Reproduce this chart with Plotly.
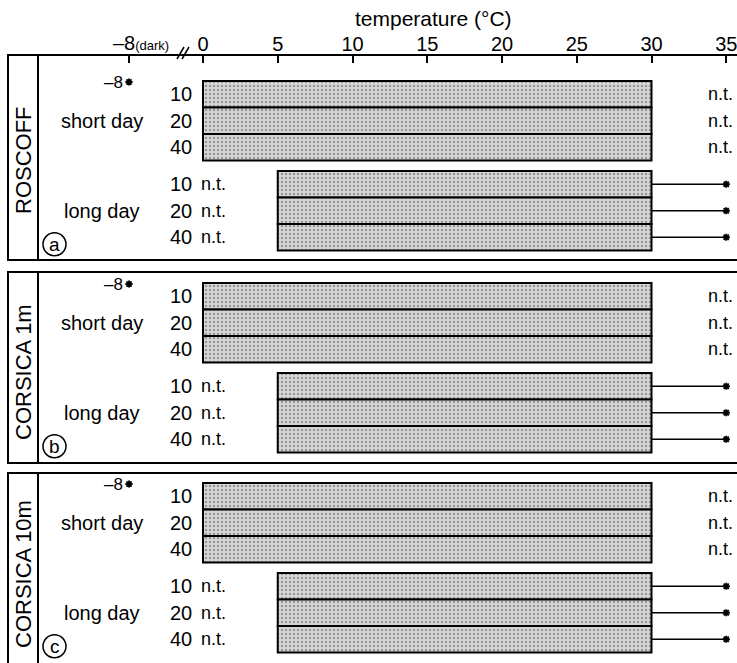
import plotly.graph_objects as go

# ---------------- data ----------------
panels = ["ROSCOFF", "CORSICA 1m", "CORSICA 10m"]
panel_letters = ["a", "b", "c"]
photoperiods = ["short day", "long day"]
irradiances = [10, 20, 40]
tick_vals = [0, 5, 10, 15, 20, 25, 30, 35]
dark_temp = -8                      # survival in darkness tested at -8 °C
short_day_min = [0, 0, 0]           # lower survival limit per panel, short day
short_day_max = [30, 30, 30]        # upper survival limit, short day
long_day_min = [5, 5, 5]            # lower limit, long day
long_day_max = [30, 30, 30]         # upper limit of growth, long day
long_day_survive = [35, 35, 35]     # survival extends to (line with star)
short_day_nt = 35                   # not tested at 35 in short day

# ---------------- layout constants ----------------
W, H = 737, 663
X0_PX, PX_PER_DEG = 203.0, 14.95
DARK_POS = -4.95        # display position of the broken-axis -8 (dark) tick
AXIS_Y = 55
ROW_H = 26.5
GROUP_GAP = 10.5
PANEL_BAR_TOP = [81, 283, 483]
PANEL_BOX = [(55, 260), (272, 463), (473, 664)]
PANEL_LABEL_Y = [160, 372, 574]
FONT = "Liberation Sans, Arial, sans-serif"


def px2x(p):
    return (p - X0_PX) / PX_PER_DEG


def row_center(p, g, i):
    return PANEL_BAR_TOP[p] + g * (3 * ROW_H + GROUP_GAP) + (i + 0.5) * ROW_H


fig = go.Figure()

# bars
bar_y, bar_base, bar_len = [], [], []
for p in range(len(panels)):
    for g, (mins, maxs) in enumerate([(short_day_min, short_day_max), (long_day_min, long_day_max)]):
        for i in range(len(irradiances)):
            bar_y.append(row_center(p, g, i))
            bar_base.append(mins[p])
            bar_len.append(maxs[p] - mins[p])

fig.add_trace(go.Bar(
    orientation="h", y=bar_y, x=bar_len, base=bar_base, width=ROW_H,
    marker=dict(color="#d6d6d6", line=dict(color="black", width=2),
                pattern=dict(shape=".", fgcolor="#555555", size=4, solidity=0.3,
                             fillmode="overlay")),
    hoverinfo="skip", showlegend=False,
))

# long-day survival lines to 35 with star
lx, ly, mx, my = [], [], [], []
for p in range(len(panels)):
    for i in range(len(irradiances)):
        c = row_center(p, 1, i)
        lx += [long_day_max[p], long_day_survive[p], None]
        ly += [c, c, None]
        mx.append(long_day_survive[p])
        my.append(c)
fig.add_trace(go.Scatter(x=lx, y=ly, mode="lines", line=dict(color="black", width=1.6),
                         hoverinfo="skip", showlegend=False))
fig.add_trace(go.Scatter(x=mx, y=my, mode="markers",
                         marker=dict(symbol="asterisk", size=6, line=dict(color="black", width=1.8)),
                         hoverinfo="skip", showlegend=False))

# dark survival star (-8) in short day
dx = [DARK_POS for _ in panels]
dy = [PANEL_BAR_TOP[p] + 1 for p in range(len(panels))]
fig.add_trace(go.Scatter(x=dx, y=dy, mode="markers",
                         marker=dict(symbol="asterisk", size=6, line=dict(color="black", width=1.8)),
                         hoverinfo="skip", showlegend=False))

shapes = []
ann = []


def text(x, y, s, size=20, xanchor="center", yanchor="middle", angle=0):
    ann.append(dict(x=x, y=y, xref="x", yref="y", text=s, showarrow=False,
                    xanchor=xanchor, yanchor=yanchor, textangle=angle,
                    font=dict(family=FONT, size=size, color="black")))


for p, name in enumerate(panels):
    top, bot = PANEL_BOX[p]
    shapes.append(dict(type="rect", xref="x", yref="y", x0=px2x(8), x1=px2x(760),
                       y0=top, y1=bot, line=dict(color="black", width=2)))
    shapes.append(dict(type="line", xref="x", yref="y", x0=px2x(38), x1=px2x(38),
                       y0=top, y1=bot, line=dict(color="black", width=2)))
    text(px2x(23), PANEL_LABEL_Y[p], name, size=22, angle=-90)

    for g, label in enumerate(photoperiods):
        for i, irr in enumerate(irradiances):
            c = row_center(p, g, i)
            text(px2x(194), c, str(irr), xanchor="right")
            if g == 1:
                text(px2x(199), c, "n.t.", xanchor="left", size=18)
            else:
                text(px2x(720), c, "n.t.", xanchor="center", size=18)
        text(px2x(102), row_center(p, g, 1), label)

    # dark label
    text(px2x(125), PANEL_BAR_TOP[p] + 1, "\u20138", size=17, xanchor="right")

    # circled letter
    cy = row_center(p, 1, 2) + 7
    shapes.append(dict(type="circle", xref="x", yref="y", x0=px2x(43), x1=px2x(66),
                       y0=cy - 11.5, y1=cy + 11.5, line=dict(color="black", width=1.5)))
    text(px2x(54.5), cy, panel_letters[p], size=19)

# axis break marks
for off in (0, 5):
    shapes.append(dict(type="line", xref="x", yref="y", x0=px2x(177 + off), x1=px2x(184 + off),
                       y0=AXIS_Y + 4, y1=AXIS_Y - 8, line=dict(color="black", width=1.5)))

# -8 (dark) tick label and title
text(px2x(111), 43, "\u20138<span style='font-size:13px'>(dark)</span>", xanchor="left")
text(px2x(433), 18, "temperature (°C)", size=21)

fig.update_layout(
    width=W, height=H, margin=dict(l=0, r=0, t=0, b=0),
    paper_bgcolor="white", plot_bgcolor="white",
    shapes=shapes, annotations=ann, barmode="overlay",
    xaxis=dict(range=[px2x(0), px2x(W)], side="top", anchor="free",
               position=(H - AXIS_Y) / H, ticklabeloverflow="allow",
               tickvals=[DARK_POS] + tick_vals, ticktext=[""] + [str(v) for v in tick_vals],
               ticks="inside", ticklen=7, tickwidth=2, tickcolor="black",
               showline=False, showgrid=False, zeroline=False,
               tickfont=dict(family=FONT, size=20, color="black")),
    yaxis=dict(range=[H, 0], visible=False, showgrid=False, zeroline=False),
)

fig.write_html("out.html")
